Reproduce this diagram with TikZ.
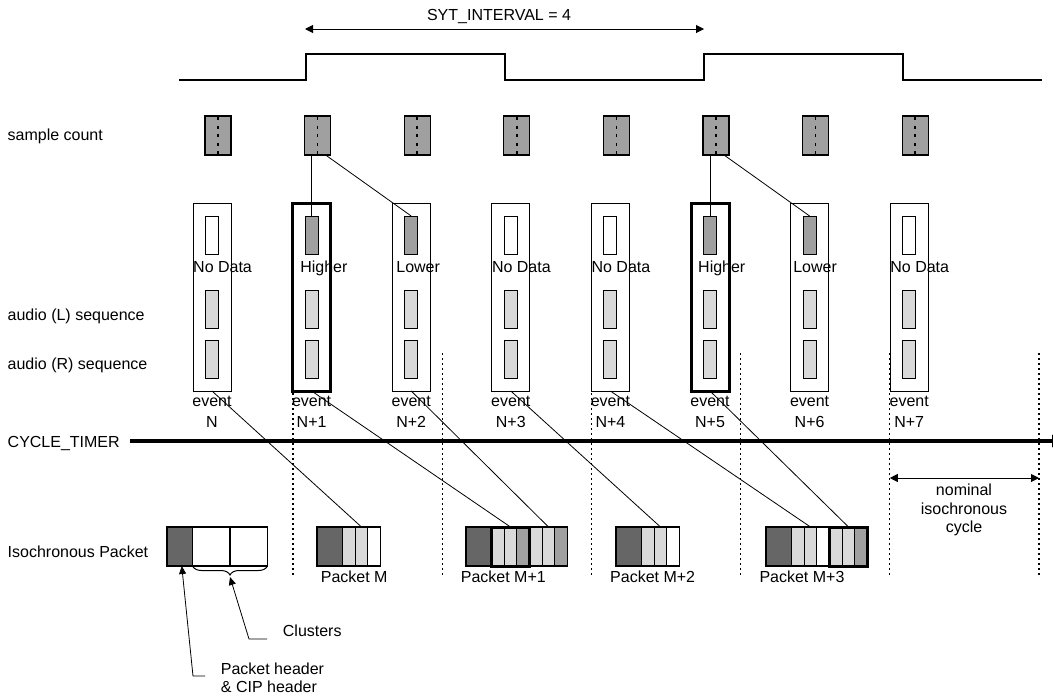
\documentclass[tikz,border=0pt]{standalone}
\usepackage{fontspec}
\setmainfont{Liberation Sans}
\usetikzlibrary{arrows.meta,decorations.pathreplacing,fit}

\definecolor{hdrgray}{HTML}{666666}
\definecolor{midgray}{HTML}{A0A0A0}
\definecolor{ltgray}{HTML}{D9D9D9}

\tikzset{
  sbox/.style={draw, fill=midgray, line width=1.2pt, minimum width=26pt, minimum height=39pt, inner sep=0pt, outer sep=0pt},
  evbox/.style={draw, fill=white, line width=1pt, minimum width=38pt, minimum height=188pt, inner sep=0pt, outer sep=0pt},
  thickbox/.style={evbox, line width=3pt},
  slot/.style={draw, line width=1pt, minimum width=13pt, minimum height=38pt, inner sep=0pt, outer sep=0pt},
  cell/.style={draw, fill=white, line width=1.2pt, minimum width=12.67pt, minimum height=39pt, inner sep=0pt, outer sep=0pt},
  hdr/.style={cell, fill=hdrgray, minimum width=25.5pt},
  lbl/.style={inner sep=0pt, font=\fontsize{16}{18}\selectfont},
  link/.style={line width=0.8pt},
  leadarrow/.style={-{Triangle[length=8pt,width=7pt]}},
  cyclesep/.style={dash pattern=on 2pt off 3pt, line width=1.2pt}
}

\begin{document}
\begin{tikzpicture}[x=1pt, y=-1pt]
  \useasboundingbox (0,0) rectangle (1053,697);

  % row labels
  \node[lbl, anchor=base west] (lsc) at (7.5,140) {sample count};
  \node[lbl, anchor=base west] (lal) at (7.5,320) {audio (L) sequence};
  \node[lbl, anchor=base west] (lar) at (7.5,369) {audio (R) sequence};
  \node[lbl, anchor=base west] (lct) at (7.5,447) {CYCLE\_TIMER};
  \node[lbl, anchor=base west] (lip) at (7.5,557) {Isochronous Packet};

  % SYT clock
  \draw[line width=1.3pt] (179,80) -- (306,80) -- (306,54) -- (505,54) -- (505,80)
    -- (704,80) -- (704,54) -- (903,54) -- (903,80) -- (1042,80);
  \coordinate (sytl) at (305,29);
  \coordinate (sytr) at (704,29);
  \draw[line width=1pt, {Triangle[length=8pt,width=8pt]}-{Triangle[length=8pt,width=8pt]}] (sytl) -- (sytr);
  \node[lbl, anchor=base] (syt) at (499,20.8) {SYT\_INTERVAL = 4};

  % nominal cycle boundaries
  \foreach \j in {0,...,5} {
    \draw[cyclesep] (293+149.2*\j,353) -- (293+149.2*\j,577);
    \coordinate (cyc\j) at (293+149.2*\j,478);
  }

  % events
  \foreach \k/\ev/\topfill/\lab/\dx in {0/evbox/white/No Data/0, 1/thickbox/midgray/Higher/7.5,
      2/evbox/midgray/Lower/4, 3/evbox/white/No Data/0, 4/evbox/white/No Data/0,
      5/thickbox/midgray/Higher/7, 6/evbox/midgray/Lower/2.5, 7/evbox/white/No Data/0} {
    \pgfmathsetmacro\cx{212+99.6*\k}
    \node[sbox] (sc\k) at (\cx+6,135.5) {};
    \draw[dash pattern=on 3pt off 5.5pt, dash phase=-1pt, line width=1.5pt] (sc\k.north) -- (sc\k.south);
    \node[\ev] (ev\k) at (\cx,297) {};
    \node[slot, fill=\topfill] (top\k) at (\cx,235) {};
    \node[slot, fill=ltgray] (aul\k) at (\cx,309) {};
    \node[slot, fill=ltgray] (aur\k) at (\cx,359) {};
    \node[lbl, anchor=base west] (st\k) at (\cx-19+\dx,272) {\lab};
    \node[lbl, anchor=base] (evt\k) at (\cx,406) {event};
    \node[lbl, anchor=base] (evn\k) at (\cx,427) {\ifnum\k=0 N\else N+\k\fi};
  }

  % sample count to events
  \draw[link] (top1.north |- sc1.south) -- (top1.north);
  \draw[link] ([xshift=-5pt]sc1.south east) -- (top2.north);
  \draw[link] (top5.north |- sc5.south) -- (top5.north);
  \draw[link] ([xshift=-5pt]sc5.south east) -- (top6.north);

  % cycle timer
  \coordinate (ctl) at (130,441);
  \coordinate (ctr) at (1064,441);
  \draw[line width=4pt, -{Triangle[length=12pt,width=12pt]}] (ctl) -- (ctr);

  % nominal isochronous cycle
  \draw[line width=1pt, {Triangle[length=8pt,width=8pt]}-{Triangle[length=8pt,width=8pt]}] (cyc4) -- (cyc5);
  \node[lbl, anchor=base] (nom1) at (964,495) {nominal};
  \node[lbl, anchor=base] (nom2) at (964,514) {isochronous};
  \node[lbl, anchor=base] (nom3) at (964,532) {cycle};

  % legend packet
  \node[hdr, anchor=west] (lhdr) at (167,546.5) {};
  \node[cell, minimum width=37.5pt, anchor=west] (lcl1) at (lhdr.east) {};
  \node[cell, minimum width=37.5pt, anchor=west] (lcl2) at (lcl1.east) {};
  \draw[line width=1pt, decorate, decoration={brace, amplitude=9pt, mirror}] (lcl1.south west) -- (lcl2.south east);
  \coordinate (bracetip) at ([yshift=-11pt]lcl1.south east);

  % Packet M
  \node[hdr, anchor=west] (pmh) at (317,546.5) {};
  \node[cell, fill=ltgray, anchor=west] (pma) at (pmh.east) {};
  \node[cell, fill=ltgray, anchor=west] (pmb) at (pma.east) {};
  \node[cell, anchor=west] (pmc) at (pmb.east) {};
  \node[lbl, anchor=base west] (tpm) at (320.7,582) {Packet M};

  % Packet M+1
  \node[hdr, anchor=west] (p1h) at (466,546.5) {};
  \node[cell, fill=ltgray, anchor=west] (p1a) at (p1h.east) {};
  \node[cell, fill=ltgray, anchor=west] (p1b) at (p1a.east) {};
  \node[cell, fill=midgray, anchor=west] (p1c) at (p1b.east) {};
  \node[cell, fill=ltgray, anchor=west] (p1d) at (p1c.east) {};
  \node[cell, fill=ltgray, anchor=west] (p1e) at (p1d.east) {};
  \node[cell, fill=midgray, anchor=west] (p1f) at (p1e.east) {};
  \node[fit=(p1a)(p1c), draw, line width=3pt, inner sep=0pt] (p1box) {};
  \node[lbl, anchor=base west] (tp1) at (460.7,582) {Packet M+1};

  % Packet M+2
  \node[hdr, anchor=west] (p2h) at (616,546.5) {};
  \node[cell, fill=ltgray, anchor=west] (p2a) at (p2h.east) {};
  \node[cell, fill=ltgray, anchor=west] (p2b) at (p2a.east) {};
  \node[cell, anchor=west] (p2c) at (p2b.east) {};
  \node[lbl, anchor=base west] (tp2) at (610,582) {Packet M+2};

  % Packet M+3
  \node[hdr, anchor=west] (p3h) at (766,546.5) {};
  \node[cell, fill=ltgray, anchor=west] (p3a) at (p3h.east) {};
  \node[cell, fill=ltgray, anchor=west] (p3b) at (p3a.east) {};
  \node[cell, anchor=west] (p3c) at (p3b.east) {};
  \node[cell, fill=ltgray, anchor=west] (p3d) at (p3c.east) {};
  \node[cell, fill=ltgray, anchor=west] (p3e) at (p3d.east) {};
  \node[cell, fill=midgray, anchor=west] (p3f) at (p3e.east) {};
  \node[fit=(p3d)(p3f), draw, line width=3pt, inner sep=0pt] (p3box) {};
  \node[lbl, anchor=base west] (tp3) at (759.3,582) {Packet M+3};

  % events to packets
  \draw[link] (ev0.south) -- (pmb.north);
  \draw[link] (ev1.south) -- (p1b.north);
  \draw[link] (ev2.south) -- (p1e.north);
  \draw[link] (ev3.south) -- (p2b.north);
  \draw[link] (ev4.south) -- (p3b.north);
  \draw[link] (ev5.south) -- (p3e.north);

  % legend callouts
  \coordinate (clk) at (267,639);
  \coordinate (hdk) at (205,676);
  \draw[link, leadarrow] (clk) -- ++(-18,0) -- (bracetip);
  \draw[link, leadarrow] (hdk) -- ++(-12,0) -- ([xshift=2pt]lhdr.south);
  \node[lbl, anchor=base west] (tcl) at (282.7,636) {Clusters};
  \node[lbl, anchor=base west] (thd1) at (220.7,674) {Packet header};
  \node[lbl, anchor=base west] (thd2) at (220.7,692) {\& CIP header};
\end{tikzpicture}
\end{document}
